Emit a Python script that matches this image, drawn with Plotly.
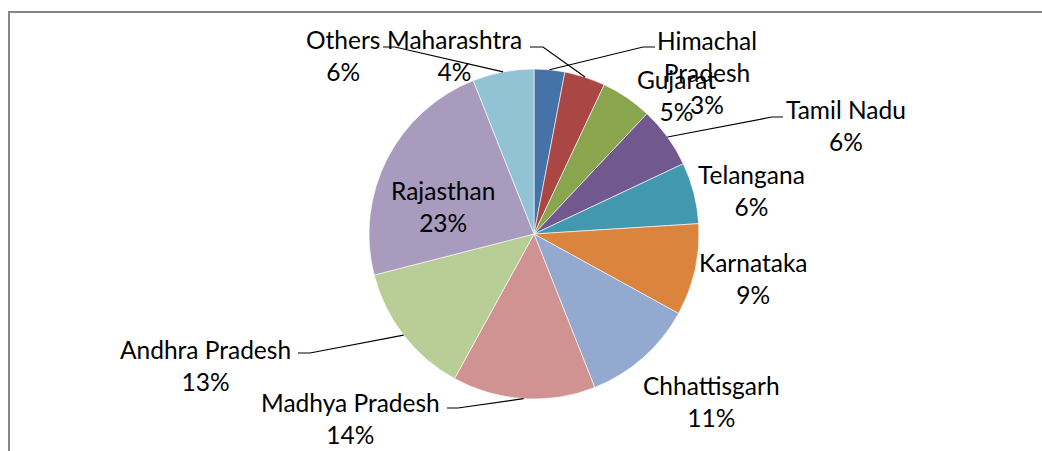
import math
import plotly.graph_objects as go

# slice data, clockwise from 12 o'clock
states = ['Himachal Pradesh', 'Maharashtra', 'Gujarat', 'Tamil Nadu', 'Telangana',
          'Karnataka', 'Chhattisgarh', 'Madhya Pradesh', 'Andhra Pradesh', 'Rajasthan', 'Others']
shares = [3, 4, 5, 6, 6, 9, 11, 14, 13, 23, 6]
colors = ['#4572A7', '#AA4643', '#89A54E', '#71588F', '#4198AF', '#DB843D',
          '#93A9CF', '#D19392', '#B9CD96', '#A99BBD', '#92C3D4']

W, H = 1042, 451
cx, cy, r = 534, 234, 165  # pie centre / radius in px

# label centre positions (px)
label_pos = {
    'Himachal Pradesh': (707, 72), 'Maharashtra': (454, 56), 'Gujarat': (676, 95),
    'Tamil Nadu': (846, 126), 'Telangana': (751, 190), 'Karnataka': (753, 278),
    'Chhattisgarh': (711, 401), 'Madhya Pradesh': (350, 418), 'Andhra Pradesh': (205, 365),
    'Rajasthan': (443, 206), 'Others': (343, 56),
}
# leader lines: (text-side x, elbow x, y) in px
leaders = {
    'Others': (383, 395, 47), 'Maharashtra': (530, 543, 47), 'Himachal Pradesh': (655, 643, 47),
    'Tamil Nadu': (783, 772, 117), 'Andhra Pradesh': (298, 310, 353), 'Madhya Pradesh': (447, 458, 408),
}
wrapped = {'Himachal Pradesh': 'Himachal<br>Pradesh'}


def px(x, y):
    return x / W, 1 - y / H


fig = go.Figure(go.Pie(
    labels=states, values=shares, sort=False, direction='clockwise', rotation=0,
    marker=dict(colors=colors, line=dict(color='white', width=0.6)),
    textinfo='none', hoverinfo='label+percent', showlegend=False,
    domain=dict(x=[(cx - r) / W, (cx + r) / W], y=[1 - (cy + r) / H, 1 - (cy - r) / H]),
))

total = sum(shares)
cum = 0
for name, val in zip(states, shares):
    mid = (cum + val / 2) / total * 2 * math.pi
    cum += val
    lx, ly = label_pos[name]
    x, y = px(lx, ly)
    fig.add_annotation(text=f"{wrapped.get(name, name)}<br>{val}%", x=x, y=y,
                       xref='paper', yref='paper', showarrow=False,
                       xanchor='center', yanchor='middle', align='center')
    if name in leaders:
        tx, ex, ey = leaders[name]
        edge = (cx + r * math.sin(mid), cy - r * math.cos(mid))
        pts = [px(tx, ey), px(ex, ey), px(*edge)]
        path = 'M ' + ' L '.join(f"{a},{b}" for a, b in pts)
        fig.add_shape(type='path', path=path, xref='paper', yref='paper',
                      line=dict(color='black', width=1.2))

# chart border (top and left edges visible)
fig.add_shape(type='path', path=f"M {9/W},0 L {9/W},{1-12/H} L 1.01,{1-12/H}",
              xref='paper', yref='paper', line=dict(color='#868686', width=2))

fig.update_layout(
    width=W, height=H, margin=dict(l=0, r=0, t=0, b=0),
    paper_bgcolor='white', plot_bgcolor='white',
    font=dict(family='Lato, Carlito, sans-serif', size=24.5, color='black'),
)

fig.write_html("out.html", config={'displayModeBar': False},
               post_script="document.body.style.margin='0';")
